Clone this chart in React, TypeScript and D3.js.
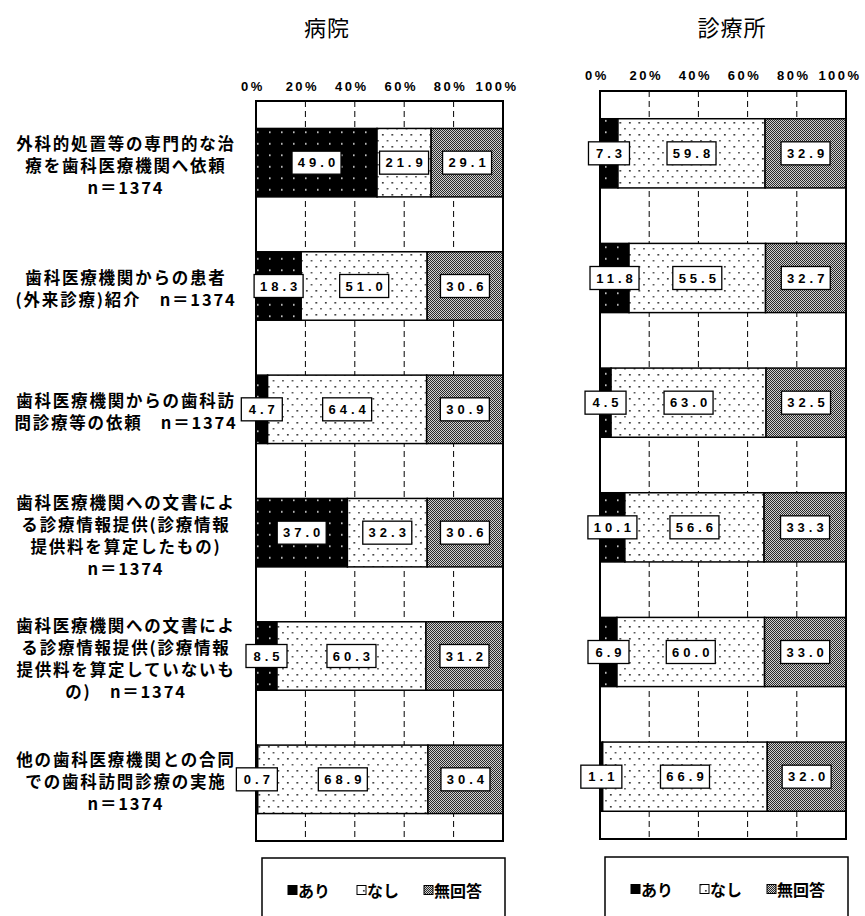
import React from "react";
import * as d3 from "d3";

// category labels (left side), one entry per row
const categoryLines: string[][] = [
  ["外科的処置等の専門的な治", "療を歯科医療機関へ依頼", "n＝1374"],
  ["歯科医療機関からの患者", "(外来診療)紹介　n＝1374"],
  ["歯科医療機関からの歯科訪", "問診療等の依頼　n＝1374"],
  ["歯科医療機関への文書によ", "る診療情報提供(診療情報", "提供料を算定したもの)", "n＝1374"],
  ["歯科医療機関への文書によ", "る診療情報提供(診療情報", "提供料を算定していないも", "の)　n＝1374"],
  ["他の歯科医療機関との合同", "での歯科訪問診療の実施", "n＝1374"],
];

const seriesNames = ["あり", "なし", "無回答"];
const tickValues = [0, 20, 40, 60, 80, 100];
const tickLabels = ["0%", "20%", "40%", "60%", "80%", "100%"];

// 病院
const hospitalAri = [49.0, 18.3, 4.7, 37.0, 8.5, 0.7];
const hospitalNashi = [21.9, 51.0, 64.4, 32.3, 60.3, 68.9];
const hospitalMukaito = [29.1, 30.6, 30.9, 30.6, 31.2, 30.4];

// 診療所
const clinicAri = [7.3, 11.8, 4.5, 10.1, 6.9, 1.1];
const clinicNashi = [59.8, 55.5, 63.0, 56.6, 60.0, 66.9];
const clinicMukaito = [32.9, 32.7, 32.5, 33.3, 33.0, 32.0];

const W = 865;
const H = 916;
const fills = ["url(#pAri)", "url(#pNashi)", "url(#pMukaito)"];
const cjk = "'Noto Sans CJK JP', 'Noto Sans', sans-serif";
const latin = "'Liberation Sans', Arial, sans-serif";

type PanelProps = {
  title: string;
  series: number[][];
  x0: number;
  x1: number;
  y0: number;
  y1: number;
  titleX: number;
  tickY: number;
  legendX: number;
  legendY: number;
};

const Panel = ({ title, series, x0, x1, y0, y1, titleX, tickY, legendX, legendY }: PanelProps) => {
  const x = d3.scaleLinear().domain([0, 100]).range([x0, x1]);
  const y = d3
    .scaleBand<number>()
    .domain(d3.range(categoryLines.length))
    .range([y0, y1])
    .paddingInner(0.445)
    .paddingOuter(0.2225);

  const rows = categoryLines.map((_, i) => {
    let acc = 0;
    return series.map((s, k) => {
      const start = acc;
      acc += s[i];
      return { k, v: s[i], start, end: acc };
    });
  });

  const bw = y.bandwidth();

  return (
    <g>
      <text x={titleX} y={26} textAnchor="middle" dominantBaseline="central"
        fontFamily={cjk} fontSize={22} letterSpacing={1}>
        {title}
      </text>

      {tickValues.map((t, i) => (
        <text key={t} x={x(t) - (t === 100 ? 6 : 3)} y={tickY} textAnchor="middle"
          dominantBaseline="central" fontFamily={latin} fontWeight="bold" fontSize={13}
          letterSpacing={2.5}>
          {tickLabels[i]}
        </text>
      ))}

      {/* dashed grid */}
      {tickValues.slice(1, -1).map((t) => (
        <line key={t} x1={x(t)} x2={x(t)} y1={y0} y2={y1} stroke="#000"
          strokeWidth={1} strokeDasharray="6,4" />
      ))}

      {rows.map((segs, i) =>
        segs.map((s) => (
          <rect key={`${i}-${s.k}`} x={x(s.start)} y={y(i)!} width={x(s.end) - x(s.start)}
            height={bw} fill={fills[s.k]} stroke="#000" strokeWidth={1.5} />
        ))
      )}

      <rect x={x0} y={y0} width={x1 - x0} height={y1 - y0} fill="none" stroke="#000" strokeWidth={2} />

      {rows.map((segs, i) =>
        segs.map((s) => {
          const label = s.v.toFixed(1);
          const bwid = label.length * 8 + 17;
          const cx = x((s.start + s.end) / 2);
          const cy = y(i)! + bw / 2;
          return (
            <g key={`l${i}-${s.k}`}>
              <rect x={cx - bwid / 2} y={cy - 11.5} width={bwid} height={23} fill="#fff"
                stroke="#000" strokeWidth={1.3} />
              <text x={cx + 2} y={cy} textAnchor="middle" dominantBaseline="central"
                fontFamily={latin} fontWeight="bold" fontSize={13} letterSpacing={4}>
                {label}
              </text>
            </g>
          );
        })
      )}

      {/* legend */}
      <rect x={legendX} y={legendY} width={243} height={80} fill="#fff" stroke="#000" strokeWidth={1.5} />
      {seriesNames.map((name, k) => {
        const lx = legendX + [26, 95, 162][k];
        const ly = legendY + 32;
        return (
          <g key={name}>
            <rect x={lx} y={ly - 4.5} width={9} height={9} fill={k === 0 ? "#000" : fills[k]}
              stroke="#000" strokeWidth={1} />
            <text x={lx + 10} y={ly} dominantBaseline="central" fontFamily={cjk}
              fontWeight="bold" fontSize={16}>
              {name}
            </text>
          </g>
        );
      })}
    </g>
  );
};

export default function App() {
  const yl = d3
    .scaleBand<number>()
    .domain(d3.range(categoryLines.length))
    .range([101, 841])
    .paddingInner(0.445)
    .paddingOuter(0.2225);
  const lineH = 22;

  return (
    <svg width={W} height={H} viewBox={`0 0 ${W} ${H}`}
      style={{ position: "absolute", left: 0, top: 0, background: "#fff" }}>
      <defs>
        <pattern id="pAri" patternUnits="userSpaceOnUse" width={12} height={11.5}>
          <rect width={12} height={11.5} fill="#000" />
          <rect x={5} y={5} width={1.6} height={1.6} fill="#e0e0e0" />
        </pattern>
        <pattern id="pNashi" patternUnits="userSpaceOnUse" width={9.5} height={12}>
          <rect width={9.5} height={12} fill="#fff" />
          <rect x={2} y={2} width={1.6} height={1.6} fill="#222" />
          <rect x={6.75} y={8} width={1.5} height={1.5} fill="#333" />
        </pattern>
        <pattern id="pMukaito" patternUnits="userSpaceOnUse" width={2} height={2}>
          <rect width={2} height={2} fill="#d0d0d0" />
          <rect x={0} y={0} width={1} height={1} fill="#2a2a2a" />
          <rect x={1} y={1} width={1} height={1} fill="#2a2a2a" />
        </pattern>
      </defs>

      {categoryLines.map((lines, i) => {
        const cy = yl(i)! + yl.bandwidth() / 2 + 2;
        const top = cy - ((lines.length - 1) * lineH) / 2;
        return (
          <text key={i} textAnchor="middle" fontFamily={cjk} fontWeight="bold" fontSize={16.5}
            letterSpacing={1.8}>
            {lines.map((ln, j) => (
              <tspan key={j} x={126} y={top + j * lineH} dominantBaseline="central">
                {ln}
              </tspan>
            ))}
          </text>
        );
      })}

      <Panel title="病院" series={[hospitalAri, hospitalNashi, hospitalMukaito]}
        x0={256} x1={503} y0={101} y1={841} titleX={327} tickY={86} legendX={262} legendY={858} />
      <Panel title="診療所" series={[clinicAri, clinicNashi, clinicMukaito]}
        x0={600} x1={846} y0={91} y1={839} titleX={732} tickY={75} legendX={605} legendY={857} />
    </svg>
  );
}
